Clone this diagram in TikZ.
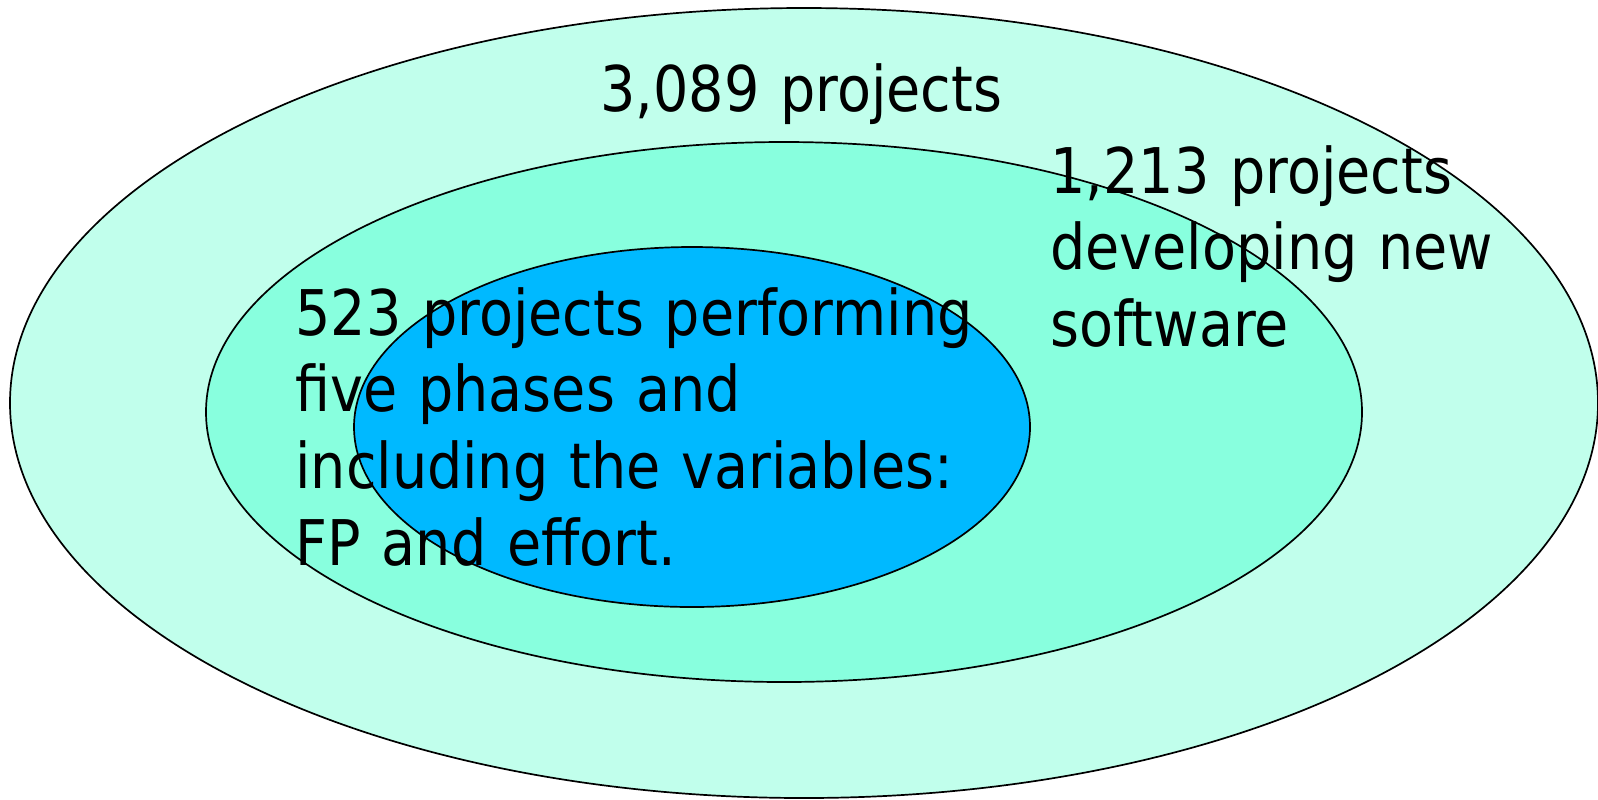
\documentclass[tikz,border=0pt]{standalone}
\usepackage{fontspec}
\setmainfont{DejaVu Sans Condensed}[FakeStretch=0.98]
\definecolor{outerc}{RGB}{193,255,236}
\definecolor{midc}{RGB}{136,255,222}
\definecolor{innerc}{RGB}{0,185,255}
\begin{document}
\begin{tikzpicture}[x=0.5pt,y=-0.5pt,
  ring/.style={draw=black,line width=0.85pt},
  lbl/.style={anchor=base west,inner sep=0pt,align=left,text width=#1,
    font=\fontsize{31.5pt}{38.4pt}\selectfont}]
\useasboundingbox (0,0) rectangle (1598,799);
\draw[ring,fill=outerc] (804,403) ellipse [x radius=794, y radius=395];
\draw[ring,fill=midc] (784,412) ellipse [x radius=578, y radius=270];
\draw[ring,fill=innerc] (692,427) ellipse [x radius=338, y radius=180];
\node[lbl=500pt] (t1) at (600,111) {3,089 projects};
\node[lbl=300pt] (t2) at (1050,193) {1,213 projects\\developing new\\software};
\node[lbl=400pt] (t3) at (295,335) {523 projects performing\\five phases and\\including the variables:\\FP and effort.};
\end{tikzpicture}
\end{document}
